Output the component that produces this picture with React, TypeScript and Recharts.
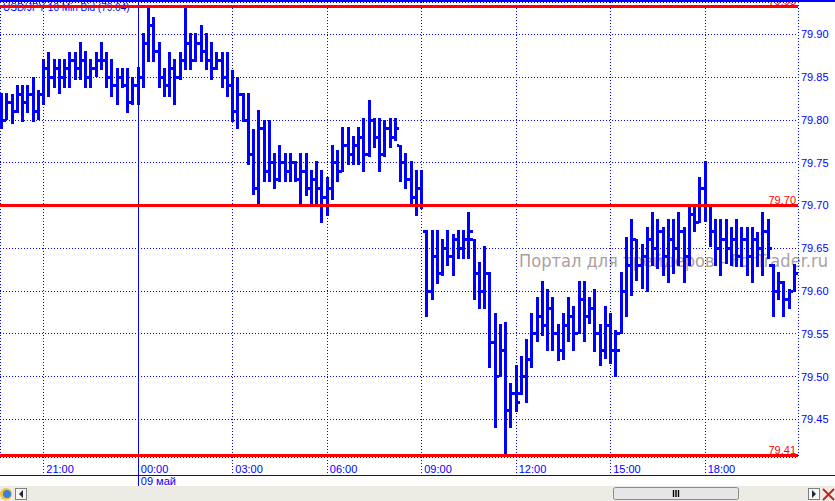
import React from 'react';
import {
  ComposedChart,
  Bar,
  XAxis,
  YAxis,
  CartesianGrid,
  ReferenceLine
} from 'recharts';

// 10-minute USD/JPY bid bars, index 0 = 00:00 on 09 May
const FIRST_BAR = -26;

const highs = [
  79.832, 79.832, 79.830, 79.841, 79.841, 79.841, 79.850, 79.835, 79.871, 79.880, 79.871, 79.871, 79.871,
  79.879, 79.879, 79.891, 79.881, 79.871, 79.879, 79.891, 79.879, 79.871, 79.861, 79.861, 79.861, 79.850,
  79.862, 79.902, 79.933, 79.920, 79.891, 79.861, 79.879, 79.871, 79.879, 79.932, 79.902, 79.902, 79.911,
  79.902, 79.891, 79.879, 79.879, 79.879, 79.858, 79.850, 79.832, 79.832, 79.790, 79.812, 79.800, 79.800,
  79.762, 79.771, 79.762, 79.762, 79.752, 79.762, 79.762, 79.742, 79.752, 79.742, 79.733, 79.771, 79.765,
  79.792, 79.792, 79.781, 79.792, 79.802, 79.823, 79.802, 79.802, 79.800, 79.802, 79.802, 79.771, 79.762,
  79.752, 79.742, 79.742, 79.672, 79.672, 79.672, 79.661, 79.672, 79.667, 79.672, 79.672, 79.692, 79.661,
  79.634, 79.653, 79.622, 79.574, 79.562, 79.564, 79.492, 79.513, 79.524, 79.544, 79.574, 79.593, 79.612,
  79.603, 79.593, 79.562, 79.574, 79.593, 79.583, 79.612, 79.612, 79.593, 79.603, 79.562, 79.583, 79.574,
  79.554, 79.622, 79.663, 79.684, 79.661, 79.655, 79.675, 79.692, 79.684, 79.675, 79.684, 79.684, 79.692,
  79.675, 79.702, 79.702, 79.733, 79.752, 79.702, 79.684, 79.684, 79.684, 79.675, 79.684, 79.675, 79.675,
  79.675, 79.669, 79.692, 79.684, 79.632, 79.622, 79.612, 79.603, 79.632
];

const lows = [
  79.789, 79.800, 79.795, 79.808, 79.798, 79.808, 79.798, 79.800, 79.818, 79.827, 79.838, 79.830, 79.838,
  79.838, 79.847, 79.847, 79.838, 79.838, 79.850, 79.858, 79.838, 79.827, 79.818, 79.838, 79.808, 79.818,
  79.818, 79.838, 79.868, 79.868, 79.838, 79.827, 79.827, 79.818, 79.847, 79.858, 79.858, 79.868, 79.868,
  79.858, 79.847, 79.858, 79.838, 79.827, 79.798, 79.789, 79.798, 79.748, 79.712, 79.700, 79.728, 79.728,
  79.719, 79.728, 79.728, 79.728, 79.728, 79.702, 79.711, 79.702, 79.702, 79.680, 79.688, 79.707, 79.728,
  79.739, 79.748, 79.748, 79.748, 79.739, 79.757, 79.767, 79.739, 79.757, 79.767, 79.775, 79.728, 79.719,
  79.702, 79.688, 79.696, 79.570, 79.589, 79.608, 79.618, 79.629, 79.618, 79.637, 79.637, 79.637, 79.589,
  79.579, 79.579, 79.510, 79.440, 79.500, 79.408, 79.440, 79.459, 79.478, 79.469, 79.510, 79.541, 79.548,
  79.530, 79.530, 79.518, 79.519, 79.541, 79.530, 79.550, 79.541, 79.562, 79.529, 79.512, 79.521, 79.515,
  79.500, 79.550, 79.570, 79.594, 79.612, 79.603, 79.599, 79.629, 79.626, 79.618, 79.610, 79.620, 79.629,
  79.610, 79.629, 79.669, 79.680, 79.681, 79.651, 79.629, 79.618, 79.632, 79.629, 79.628, 79.628, 79.618,
  79.610, 79.628, 79.618, 79.637, 79.570, 79.589, 79.570, 79.579, 79.599
];

const opens = [
  79.81, 79.80, 79.82, 79.81, 79.83, 79.82, 79.83, 79.81, 79.83, 79.86, 79.85, 79.86, 79.85,
  79.86, 79.87, 79.86, 79.87, 79.85, 79.86, 79.87, 79.87, 79.85, 79.84, 79.85, 79.84, 79.82,
  79.84, 79.85, 79.89, 79.91, 79.88, 79.85, 79.84, 79.86, 79.85, 79.87, 79.89, 79.87, 79.89,
  79.88, 79.87, 79.86, 79.87, 79.85, 79.84, 79.81, 79.83, 79.80, 79.76, 79.72, 79.79, 79.74,
  79.75, 79.73, 79.75, 79.74, 79.75, 79.73, 79.74, 79.72, 79.73, 79.72, 79.71, 79.72, 79.75,
  79.74, 79.77, 79.76, 79.77, 79.78, 79.76, 79.80, 79.78, 79.76, 79.79, 79.78, 79.77, 79.75,
  79.73, 79.71, 79.72, 79.67, 79.60, 79.64, 79.62, 79.65, 79.64, 79.66, 79.65, 79.66, 79.66,
  79.62, 79.60, 79.62, 79.54, 79.50, 79.53, 79.46, 79.48, 79.48, 79.50, 79.52, 79.55, 79.57,
  79.56, 79.58, 79.55, 79.53, 79.56, 79.57, 79.55, 79.59, 79.57, 79.58, 79.55, 79.53, 79.56,
  79.53, 79.55, 79.60, 79.63, 79.66, 79.63, 79.64, 79.66, 79.65, 79.67, 79.64, 79.66, 79.65,
  79.67, 79.64, 79.69, 79.68, 79.72, 79.70, 79.67, 79.65, 79.66, 79.65, 79.66, 79.64, 79.66,
  79.64, 79.66, 79.65, 79.67, 79.63, 79.60, 79.61, 79.59, 79.60
];

const closes = [
  79.80, 79.82, 79.81, 79.83, 79.82, 79.83, 79.81, 79.83, 79.86, 79.85, 79.86, 79.85, 79.86,
  79.87, 79.86, 79.87, 79.85, 79.86, 79.87, 79.87, 79.85, 79.84, 79.85, 79.84, 79.82, 79.84,
  79.85, 79.89, 79.91, 79.88, 79.85, 79.84, 79.86, 79.85, 79.87, 79.89, 79.87, 79.89, 79.88,
  79.87, 79.86, 79.87, 79.85, 79.84, 79.81, 79.83, 79.80, 79.76, 79.72, 79.79, 79.74, 79.75,
  79.73, 79.75, 79.74, 79.75, 79.73, 79.74, 79.72, 79.73, 79.72, 79.71, 79.72, 79.75, 79.74,
  79.77, 79.76, 79.77, 79.78, 79.76, 79.80, 79.78, 79.76, 79.79, 79.78, 79.79, 79.75, 79.73,
  79.71, 79.72, 79.70, 79.60, 79.64, 79.62, 79.65, 79.64, 79.66, 79.65, 79.66, 79.67, 79.62,
  79.60, 79.62, 79.54, 79.50, 79.53, 79.46, 79.48, 79.47, 79.50, 79.52, 79.55, 79.57, 79.56,
  79.58, 79.55, 79.53, 79.56, 79.57, 79.55, 79.59, 79.57, 79.58, 79.55, 79.53, 79.56, 79.53,
  79.53, 79.60, 79.63, 79.66, 79.63, 79.64, 79.66, 79.65, 79.67, 79.64, 79.66, 79.65, 79.67,
  79.64, 79.69, 79.68, 79.72, 79.70, 79.67, 79.65, 79.66, 79.65, 79.66, 79.64, 79.66, 79.64,
  79.66, 79.65, 79.67, 79.65, 79.60, 79.61, 79.59, 79.60, 79.62
];

const timeTicks = [-18, 0, 18, 36, 54, 72, 90, 108];
const timeLabels = ['21:00', '00:00', '03:00', '06:00', '09:00', '12:00', '15:00', '18:00'];
const dayTick = 0;
const dayLabel = '09 май';

const priceTicks = [79.45, 79.5, 79.55, 79.6, 79.65, 79.7, 79.75, 79.8, 79.85, 79.9];
const levelValues = [79.933, 79.7, 79.408];
const levelLabels = ['79.93', '79.70', '79.41'];

const BLUE = '#0000ff';
const RED = '#ff0000';
const FONT = '"Liberation Sans", Arial, sans-serif';

const data = highs.map((h, k) => ({
  idx: FIRST_BAR + k,
  range: [lows[k], h],
  high: h,
  low: lows[k],
  open: opens[k],
  close: closes[k]
}));

// vertical high-low line with open tick on the left, close tick on the right
const OhlcShape = (props: any) => {
  const { x, y, width, height, payload } = props;
  if (x == null || y == null || !payload) return null;
  const cx = x + width / 2;
  const span = payload.high - payload.low;
  const yAt = (v: number) => (span > 0 ? y + ((payload.high - v) / span) * height : y);
  const yo = yAt(payload.open);
  const yc = yAt(payload.close);
  return (
    <g fill={BLUE}>
      <rect x={cx - 1.5} y={y} width={3} height={Math.max(height, 1)} />
      <rect x={cx - 4} y={yo - 1.5} width={2.5} height={3} />
      <rect x={cx + 1.5} y={yc - 1.5} width={2.5} height={3} />
    </g>
  );
};

const TimeTick = (props: any) => {
  const { x, y, payload } = props;
  const k = timeTicks.indexOf(payload.value);
  const isDay = payload.value === dayTick;
  return (
    <g>
      <line
        x1={x}
        x2={x}
        y1={y}
        y2={isDay ? y + 29 : y + 18}
        stroke={BLUE}
        strokeDasharray={isDay ? undefined : '1 2'}
      />
      <text x={x + 2.5} y={y + 16} fill={BLUE} fontSize={11} fontFamily={FONT}>
        {timeLabels[k]}
      </text>
      {isDay && (
        <text x={x + 2.5} y={y + 28} fill={BLUE} fontSize={11} fontFamily={FONT}>
          {dayLabel}
        </text>
      )}
    </g>
  );
};

const LevelLabel = (props: any) => {
  const vb = props.viewBox || {};
  return (
    <text
      x={(vb.x || 0) + (vb.width || 0) - 2}
      y={(vb.y || 0) - 1.5}
      textAnchor="end"
      fill={RED}
      fontSize={11}
      fontFamily={FONT}
    >
      {props.text}
    </text>
  );
};

function ScrollBar() {
  return (
    <g>
      <rect x={0} y={486} width={835} height={15} fill="#ecebe4" />
      {/* globe icon */}
      <circle cx={6} cy={494} r={6} fill="#f2c33a" />
      <circle cx={7} cy={494} r={4} fill="#3d7fd6" />
      {/* left arrow */}
      <rect x={15.5} y={488.5} width={11} height={11} fill="#f6f6f2" stroke="#7f7f7f" />
      <polygon points="23,490 23,498 19,494" fill="#1c2c3c" />
      {/* thumb */}
      <rect x={613.5} y={487.5} width={125} height={12} rx={2} fill="#e6e6e6" stroke="#8a8a8a" />
      <line x1={673.5} x2={673.5} y1={490} y2={497} stroke="#000" strokeWidth={1.4} />
      <line x1={676} x2={676} y1={490} y2={497} stroke="#000" strokeWidth={1.4} />
      <line x1={678.5} x2={678.5} y1={490} y2={497} stroke="#000" strokeWidth={1.4} />
      {/* right arrow */}
      <rect x={808.5} y={488.5} width={11} height={11} fill="#f6f6f2" stroke="#7f7f7f" />
      <polygon points="812,490 812,498 816,494" fill="#1c2c3c" />
      {/* close */}
      <line x1={823} y1={489} x2={834} y2={500} stroke="#c82020" strokeWidth={2} />
      <line x1={834} y1={489} x2={823} y2={500} stroke="#c82020" strokeWidth={2} />
    </g>
  );
}

export default function App() {
  return (
    <div style={{ position: 'relative', width: 835, height: 501, background: '#fff', overflow: 'hidden' }}>
      <style>{'body{margin:0}'}</style>

      {/* title and watermark sit under the bars */}
      <svg width={835} height={501} style={{ position: 'absolute', left: 0, top: 0 }}>
        <text x={3} y={10.5} fill={BLUE} fontSize={10} fontFamily={FONT}>
          USD/JPY 10 Min Bid (79.64)
        </text>
        <text
          x={519}
          y={267}
          fill="#aaa19e"
          fontSize={17}
          fontFamily='"DejaVu Sans", sans-serif'
          textLength={309}
          lengthAdjust="spacingAndGlyphs"
        >
          Портал для трейдеров - ForTrader.ru
        </text>
      </svg>

      <div style={{ position: 'absolute', left: 0, top: 0 }}>
        <ComposedChart
          width={835}
          height={501}
          data={data}
          margin={{ top: 2, right: 0, bottom: 0, left: 0 }}
          style={{ shapeRendering: 'crispEdges' }}
        >
          <CartesianGrid stroke={BLUE} strokeDasharray="1 2" />
          <XAxis
            dataKey="idx"
            type="number"
            domain={[-26.35, 125.68]}
            allowDataOverflow
            ticks={timeTicks}
            interval={0}
            height={44}
            tickSize={0}
            tickMargin={0}
            tickLine={false}
            axisLine={false}
            tick={<TimeTick />}
          />
          <YAxis
            orientation="right"
            type="number"
            domain={[79.406, 79.938]}
            allowDataOverflow
            ticks={priceTicks}
            interval={0}
            width={37}
            tickSize={0}
            tickMargin={3}
            tickLine={false}
            axisLine={{ stroke: BLUE, strokeDasharray: '1 2' }}
            tick={{ fill: BLUE, fontSize: 11, fontFamily: FONT }}
            tickFormatter={(v: number) => v.toFixed(2)}
          />
          <ReferenceLine x={dayTick} stroke={BLUE} strokeWidth={1} />
          <Bar dataKey="range" barSize={3} shape={<OhlcShape />} isAnimationActive={false} />
          {levelValues.map((v, k) => (
            <ReferenceLine
              key={k}
              y={v}
              stroke={RED}
              strokeWidth={3}
              label={<LevelLabel text={levelLabels[k]} />}
            />
          ))}
        </ComposedChart>
      </div>

      <svg width={835} height={501} style={{ position: 'absolute', left: 0, top: 0 }}>
        <rect x={0} y={0} width={835} height={2} fill={BLUE} />
        <line x1={0} x2={835} y1={475.5} y2={475.5} stroke={BLUE} />
        <ScrollBar />
      </svg>
    </div>
  );
}
